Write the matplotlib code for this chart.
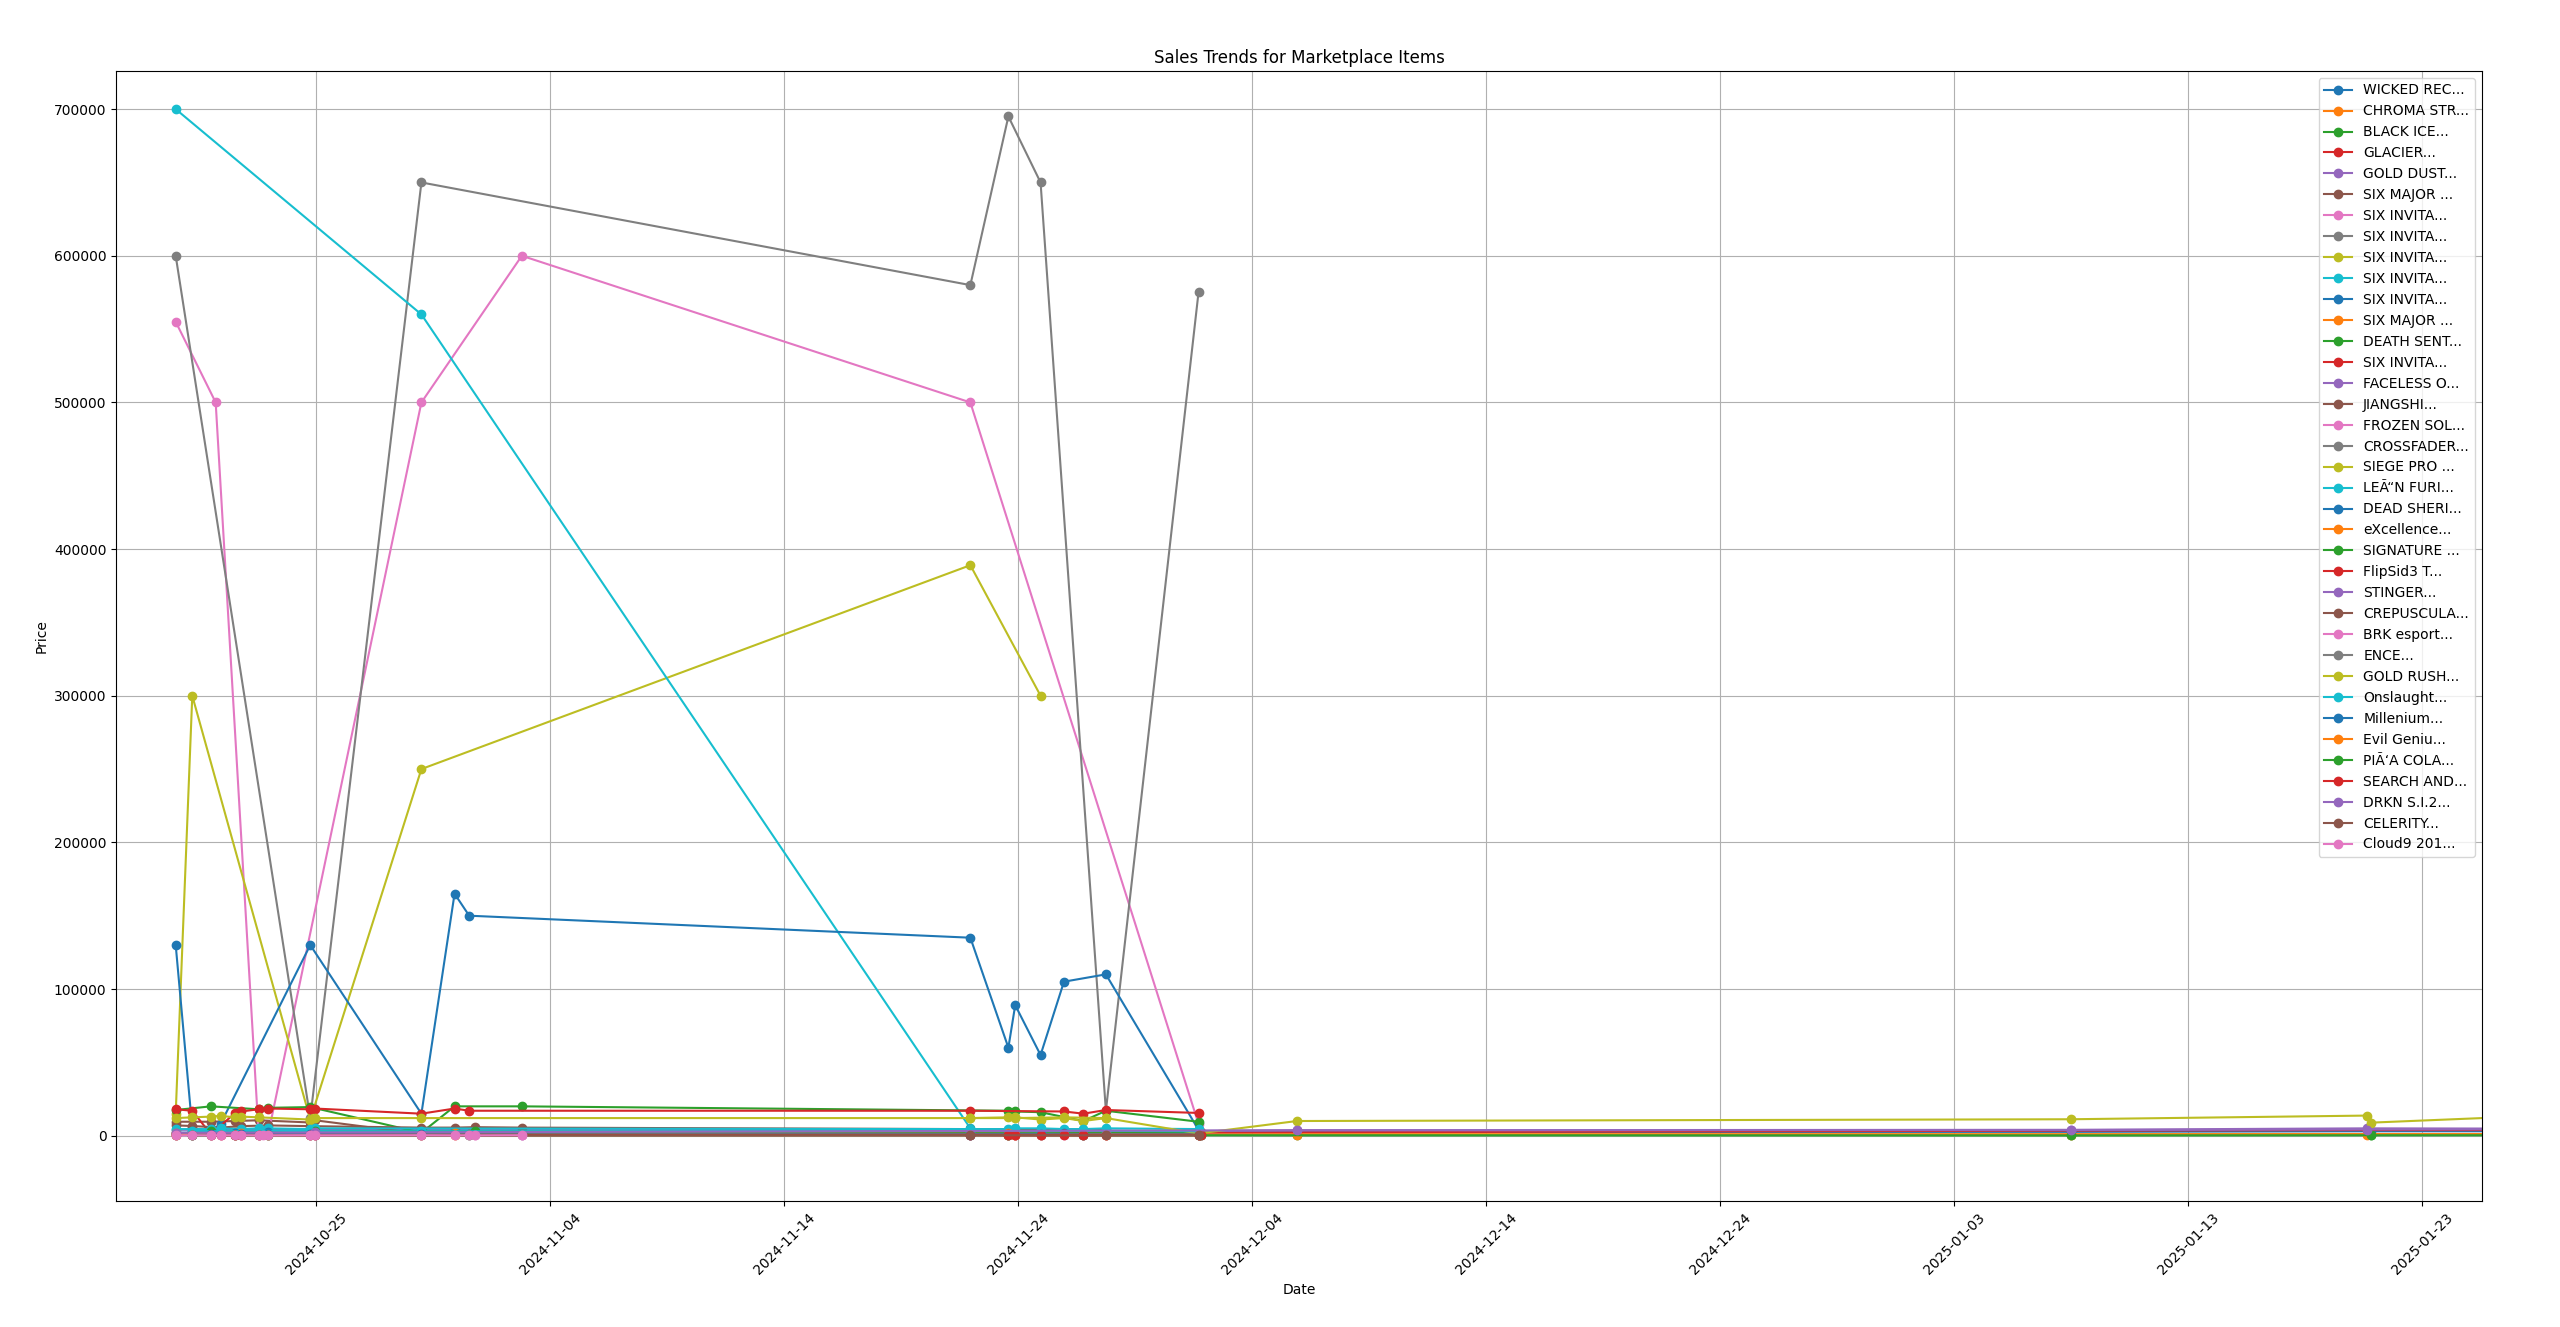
"""
Sales trends for marketplace items (price vs. sale date)
"""

import matplotlib
matplotlib.use('Agg')
import matplotlib.pyplot as plt
import matplotlib.dates as mdates
import pandas as pd


#---------------------------------------------------------------------------------------------------
# Data
#---------------------------------------------------------------------------------------------------

items = ['WICKED REC...', 'CHROMA STR...', 'BLACK ICE...', 'GLACIER...', 'GOLD DUST...',
         'SIX MAJOR ...', 'SIX INVITA...', 'SIX INVITA...', 'SIX INVITA...', 'SIX INVITA...',
         'SIX INVITA...', 'SIX MAJOR ...', 'DEATH SENT...', 'SIX INVITA...', 'FACELESS O...',
         'JIANGSHI...', 'FROZEN SOL...', 'CROSSFADER...', 'SIEGE PRO ...', 'LEÃ“N FURI...',
         'DEAD SHERI...', 'eXcellence...', 'SIGNATURE ...', 'FlipSid3 T...', 'STINGER...',
         'CREPUSCULA...', 'BRK esport...', 'ENCE...', 'GOLD RUSH...', 'Onslaught...',
         'Millenium...', 'Evil Geniu...', 'PIÃ‘A COLA...', 'SEARCH AND...', 'DRKN S.I.2...',
         'CELERITY...', 'Cloud9 201...']

# sale timestamps that show up across the items
A, B = '2024-10-19 00:00', '2024-10-19 17:00'
C, D = '2024-10-20 12:00', '2024-10-20 22:00'
E, F = '2024-10-21 13:00', '2024-10-21 19:00'
G, H = '2024-10-22 13:00', '2024-10-22 23:00'
I, J = '2024-10-24 18:00', '2024-10-24 23:00'
K, L = '2024-10-29 12:00', '2024-10-30 22:00'
M, N = '2024-10-31 13:00', '2024-10-31 19:00'
O, P = '2024-11-02 19:00', '2024-11-21 23:00'
Q, R = '2024-11-23 14:00', '2024-11-23 21:00'
S, T = '2024-11-24 23:00', '2024-11-25 23:00'
U, V = '2024-11-26 19:00', '2024-11-27 18:00'
W, X = '2024-12-01 17:00', '2024-12-01 20:00'
Y, Z = '2024-12-05 22:00', '2025-01-08 00:00'
AA, AB = '2025-01-20 15:00', '2025-01-20 20:00'
AC = '2025-01-28 00:00'

item_dates = [
    [A, F, J, N, R, V, Y, Z, AB, AC],
    [A, G, K, S, X, Y, Z, AA, AC],
    [B, I, Q, W, Y, Z, AB, AC],
    [C, H, K, T, X, AA, AC],
    [A, J, R, W, Y, Z, AA, AC],
    [A, C, E, G, I, J, K, Q, V, W],
    [A, '2024-10-20 17:00', G, H, K, O, P, W],
    [A, I, K, P, Q, S, V, W],
    [A, B, I, K, P, S],
    [A, K, P],
    [A, B, C, D, I, K, L, M, P, Q, R, S, T, V, W],
    [B, E, H, J, L, O],
    [A, C, G, H, I, K, L, O, Q, R, S, U, V, W],
    [A, B, C, E, F, G, H, I, J, K, L, M, P, T, U, V, W],
    [C, F, J, M, R],
    [A, B, D, F, H, I, K, L, N, O, P, S, V],
    [A, B, C, D, E, F, G, H, I, J],
    [A, D, G, J, K, P, S, W],
    [A, B, C, D, E, F, G, I, J, K, P, Q, R, S, T, U, V],
    [A, C, D, F, G, H, I, J, P, Q, R, S, T, U, V, W],
    [B, E, H, K, P, T, W],
    [A, F, I, L, Q, V, X],
    [C, G, J, N, S, W],
    [P, Q, R, S, T, U, V, W, X],
    [A, E, I, O, R, U, X],
    [D, G, J, M, Q, T, W],
    [K, L, M, N, O, P, Q, R, S, T, U, V, W],
    [A, C, H, J, P, S, W],
    [P, R, T, V, W, Y, Z, AA, AB, AC],
    [B, D, G, I, K, P, S, V, W],
    [C, F, H, I, K, P, S, W],
    [A, E, H, L, R, V, W, Y, Z, AA, AC],
    [B, E, H, M, Q, U, X, Z, AB, AC],
    [C, D, E, F, G, I, J, P, Q, R, S, T, U, V, W, X],
    [A, J, Y, Z, AA, AC],
    [B, G, K, P, V, W],
    [A, B, C, D, E, F, G, '2024-10-22 18:00', H, I, J, K, L, M, N, O],
]

item_prices = [
    [2000, 2200, 1800, 2000, 1700, 2100, 2500, 2600, 3000, 3000],
    [1200, 900, 800, 700, 900, 1000, 1000, 1100, 1100],
    [600, 700, 500, 400, 300, 300, 400, 400],
    [3000, 3200, 2800, 2600, 2200, 3800, 3800],
    [4000, 4200, 3600, 3200, 3700, 4000, 5000, 4800],
    [9500, 9500, 10000, 10500, 9000, 10500, 1200, 1000, 1500, 1000],
    [555000, 500000, 2000, 1500, 500000, 600000, 500000, 8000],
    [600000, 12000, 650000, 580000, 695000, 650000, 17000, 575000],
    [15000, 300000, 11000, 250000, 389000, 300000],
    [700000, 560000, 5000],
    [130000, 5000, 3000, 8000, 130000, 15000, 165000, 150000, 135000, 60000, 89000, 55000,
     105000, 110000, 4000],
    [2500, 2800, 2600, 2500, 2400, 2300],
    [17500, 20000, 18000, 19000, 19500, 2000, 20000, 20000, 17000, 16500, 16000, 10000, 17000,
     9500],
    [18000, 17000, 1000, 15500, 16500, 18000, 18500, 18000, 18500, 15000, 18500, 17000, 17000,
     16500, 15000, 17500, 15500],
    [1500, 1400, 1600, 1300, 1500],
    [7000, 6600, 5500, 6500, 7000, 6500, 5500, 5500, 5800, 5500, 4500, 4500, 4000],
    [500, 400, 600, 300, 400, 500, 300, 400, 600, 500],
    [1500, 1400, 1600, 1500, 1300, 1200, 1400, 1000],
    [12000, 12500, 13000, 13500, 12500, 13000, 12500, 11000, 12000, 12000, 12000, 12500, 12500,
     11000, 12000, 10000, 12000],
    [4500, 4500, 5000, 4500, 5000, 5000, 4500, 5000, 4500, 4500, 5000, 5000, 4500, 4500, 5000,
     4500],
    [2200, 2000, 2400, 2000, 1800, 2000, 1900],
    [1800, 1600, 1700, 1500, 1600, 1500, 1400],
    [3000, 2800, 3100, 2900, 2700, 2500],
    [1000, 600, 800, 1000, 900, 600, 1000, 800, 1000],
    [800, 700, 900, 800, 700, 800, 600],
    [1200, 1100, 1300, 1100, 1000, 1100, 900],
    [400, 300, 500, 400, 300, 500, 400, 300, 500, 400, 300, 500, 400],
    [600, 500, 700, 600, 500, 600, 500],
    [12000, 12000, 12500, 12000, 1500, 10000, 11200, 13700, 8900, 13600],
    [3200, 3000, 3400, 3100, 3000, 3200, 3100, 3300, 3000],
    [1000, 900, 1100, 1000, 900, 800, 900, 700],
    [500, 600, 500, 600, 500, 600, 500, 700, 700, 800, 800],
    [300, 200, 300, 200, 300, 200, 300, 200, 300, 300],
    [300, 200, 300, 400, 300, 200, 300, 300, 200, 300, 200, 300, 200, 300, 300, 200],
    [2000, 2200, 3700, 3800, 4200, 4300],
    [200, 300, 200, 300, 200, 300],
    [200, 300, 200, 300, 200, 300, 200, 300, 200, 300, 200, 300, 200, 300, 200, 300],
]

tick_dates = pd.date_range('2024-10-25', '2025-01-23', freq='10D')
x_range = ['2024-10-16 11:00', '2025-01-25 13:00']
y_range = [-44500, 726000]


#---------------------------------------------------------------------------------------------------
# Make plot
#---------------------------------------------------------------------------------------------------

fig = plt.figure(figsize=(25.6, 13.27), dpi=100)
ax = fig.add_axes([0.0454, 0.0950, 0.9240, 0.8515])

for name, dts, prices in zip(items, item_dates, item_prices):
    ax.plot(pd.to_datetime(dts), prices, marker='o', label=name)

ax.set_xlim(pd.to_datetime(x_range))
ax.set_ylim(y_range)
ax.set_xticks(tick_dates)
ax.xaxis.set_major_formatter(mdates.DateFormatter('%Y-%m-%d'))
plt.setp(ax.get_xticklabels(), rotation=45)

ax.set_title('Sales Trends for Marketplace Items')
ax.set_xlabel('Date')
ax.set_ylabel('Price')
ax.grid(True)
ax.legend(loc='upper right')

fig.savefig('out.png', dpi=100)
